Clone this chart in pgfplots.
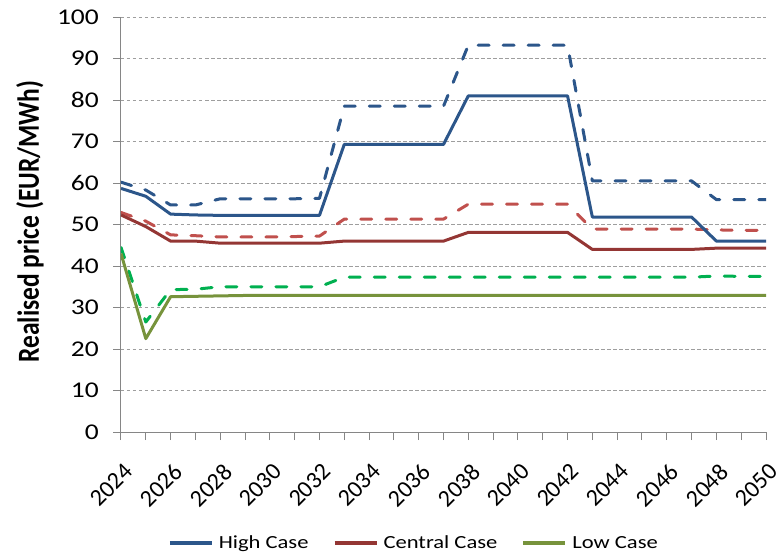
\documentclass[border=0pt]{standalone}
\usepackage{fontspec}
\setmainfont{Carlito}
\newfontfamily\wide[FakeStretch=1.22]{Carlito}
\usepackage{pgfplots}
\pgfplotsset{compat=1.18}
\definecolor{hiblue}{RGB}{44,86,138}
\definecolor{cenred}{RGB}{148,54,52}
\definecolor{cenlight}{RGB}{192,80,77}
\definecolor{lowolive}{RGB}{119,147,60}
\definecolor{lowgreen}{RGB}{0,176,80}
\definecolor{axgray}{RGB}{134,134,134}
\pgfplotstableread{
year hs hd cs cd ls ld
2024 58.7 60.2 52.3 52.9 43.0 44.5
2025 56.8 58.3 49.5 50.8 22.5 26.5
2026 52.5 54.7 46.0 47.5 32.6 34.3
2027 52.3 54.7 46.0 47.3 32.7 34.4
2028 52.2 56.2 45.5 47.0 32.8 35.0
2029 52.2 56.2 45.5 47.0 32.9 35.0
2030 52.2 56.2 45.5 47.0 32.9 35.0
2031 52.2 56.2 45.5 47.1 32.9 35.0
2032 52.2 56.3 45.5 47.2 32.9 35.0
2033 69.3 78.5 46.0 51.3 32.9 37.3
2034 69.3 78.5 46.0 51.3 32.9 37.3
2035 69.3 78.5 46.0 51.3 32.9 37.3
2036 69.3 78.5 46.0 51.3 32.9 37.3
2037 69.3 78.5 46.0 51.3 32.9 37.3
2038 81.0 93.2 48.1 54.9 32.9 37.3
2039 81.0 93.2 48.1 54.9 32.9 37.3
2040 81.0 93.2 48.1 54.9 32.9 37.3
2041 81.0 93.2 48.1 54.9 32.9 37.3
2042 81.0 93.2 48.1 54.9 32.9 37.3
2043 51.8 60.5 44.0 48.9 32.9 37.3
2044 51.8 60.5 44.0 48.9 32.9 37.3
2045 51.8 60.5 44.0 48.9 32.9 37.3
2046 51.8 60.5 44.0 48.9 32.9 37.3
2047 51.8 60.5 44.0 48.9 32.9 37.3
2048 46.0 56.0 44.3 48.7 32.9 37.6
2049 46.0 56.0 44.3 48.6 32.9 37.5
2050 46.0 56.0 44.3 48.6 32.9 37.5
}\data
\begin{document}
\begin{tikzpicture}[x=1pt,y=1pt]
\useasboundingbox (-121,-123) rectangle (657,432);
\begin{axis}[
  at={(0,0)}, anchor=south west,
  scale only axis, width=645pt, height=415pt,
  xmin=2024, xmax=2050, ymin=0, ymax=100,
  axis lines=left,
  axis line style={-, axgray, line width=1pt},
  every tick/.style={axgray, line width=1pt},
  tick align=outside,
  major tick length=8pt, minor tick length=8pt,
  xtick={2024,2026,...,2050},
  minor xtick={2025,2027,...,2049},
  xticklabels={2024,2026,2028,2030,2032,2034,2036,2038,2040,2042,2044,2046,2048,2050},
  xticklabel style={xshift=2pt, yshift=-22pt, rotate=45, anchor=north east, inner sep=0pt, font=\fontsize{24}{26}\selectfont},
  ytick={0,10,...,100},
  yticklabel style={font=\wide\fontsize{22.5}{24}\selectfont, inner sep=0pt, xshift=-14pt},
  /pgf/number format/assume math mode=true,
  ymajorgrids,
  major grid style={axgray!80, line width=0.9pt, dash pattern=on 3.5pt off 2.5pt},
  ylabel={\scalebox{1}[1.2]{Realised price (EUR/MWh)}},
  ylabel style={at={(axis description cs:-0.141,0.507)}, anchor=center, font=\fontsize{25.5}{28}\selectfont\bfseries},
  legend style={at={(axis description cs:0.454,-0.267)}, anchor=center, draw=none, fill=none,
    legend columns=3, font=\wide\fontsize{18.5}{20}\selectfont,
    /tikz/every even column/.append style={column sep=22pt},
    /tikz/every odd column/.append style={column sep=3pt}},
  legend image code/.code={\draw[#1, line width=4pt, dash pattern=] (0pt,0pt) -- (42pt,0pt);},
  every axis plot/.append style={line width=3pt, line join=round},
]
\addplot[hiblue, line cap=round, dash pattern=on 11pt off 14pt, forget plot] table[x=year,y=hd]{\data};
\addplot[cenlight, line cap=round, dash pattern=on 11pt off 14pt, forget plot] table[x=year,y=cd]{\data};
\addplot[lowgreen, line cap=round, dash pattern=on 11pt off 14pt, forget plot] table[x=year,y=ld]{\data};
\addplot[hiblue] table[x=year,y=hs]{\data};
\addlegendentry{High Case}
\addplot[cenred] table[x=year,y=cs]{\data};
\addlegendentry{Central Case}
\addplot[lowolive] table[x=year,y=ls]{\data};
\addlegendentry{Low Case}
\end{axis}
\end{tikzpicture}
\end{document}
